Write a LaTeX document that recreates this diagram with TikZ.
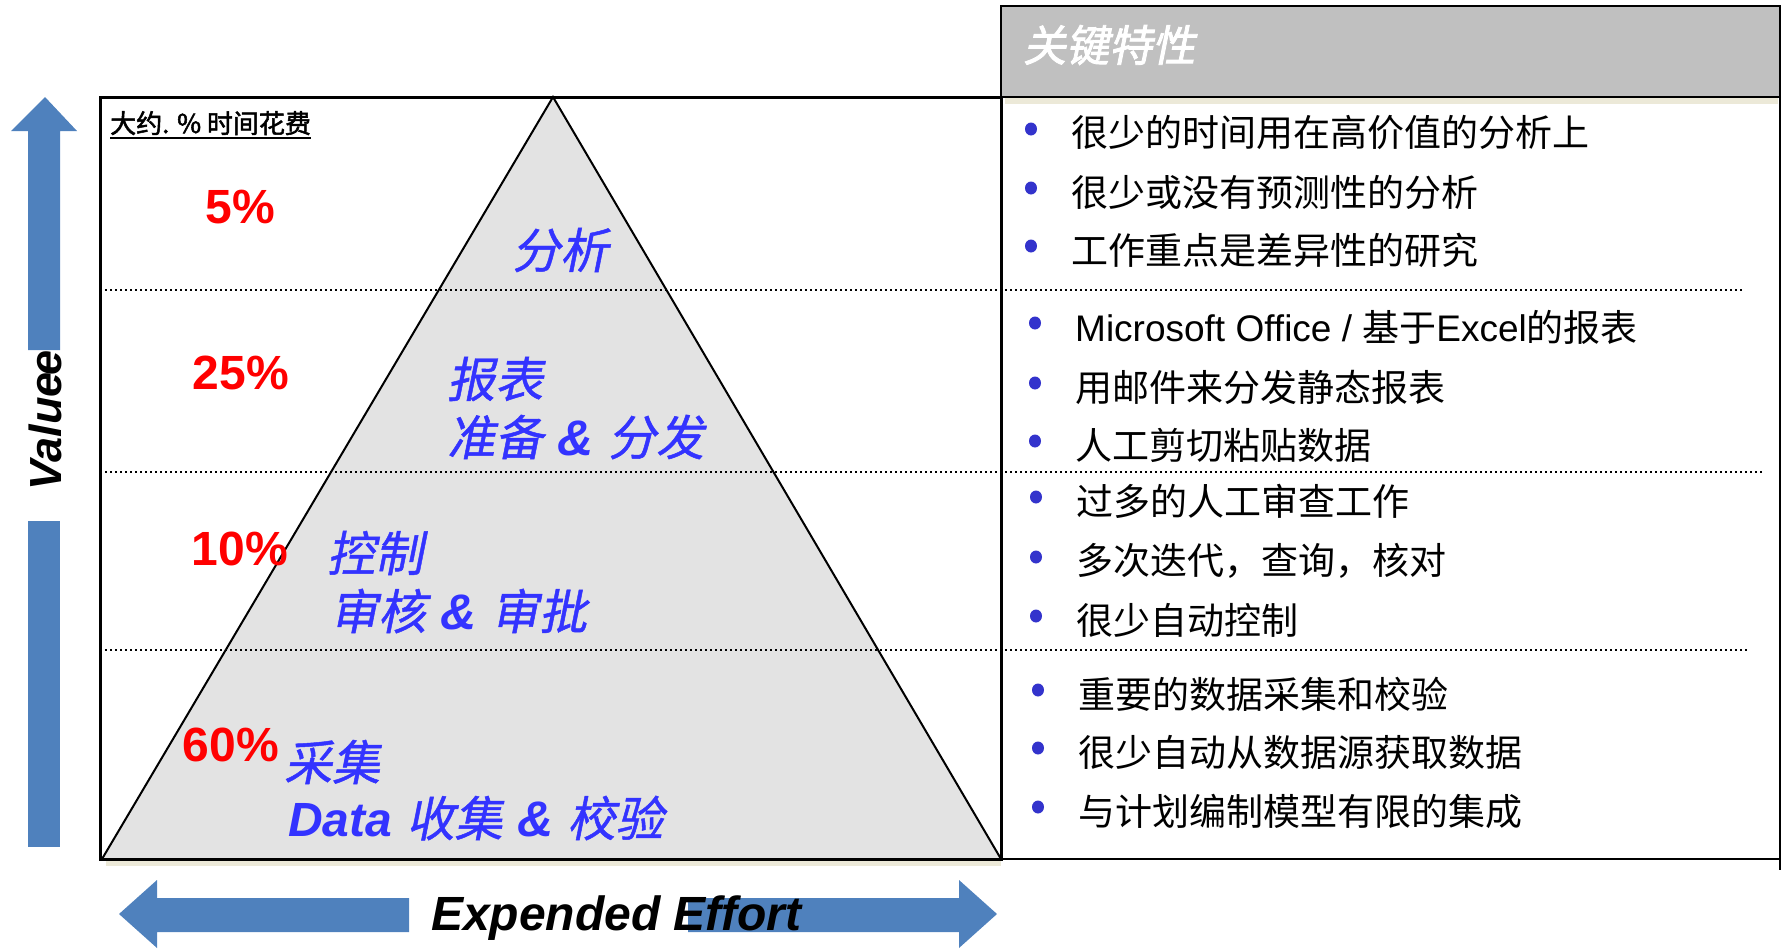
\documentclass[tikz,border=0pt]{standalone}
\usepackage{fontspec}
\setmainfont{Liberation Sans}
\newfontfamily\cjk{Noto Sans CJK SC}
\newfontfamily\cjkit{Noto Sans CJK SC}[FakeSlant=0.2,FakeBold=1]
\newfontfamily\cjkbf{Noto Sans CJK SC}[FakeBold=2]
\newfontfamily\cjkbfit{Noto Sans CJK SC}[FakeSlant=0.2,FakeBold=2]
\definecolor{arrowblue}{HTML}{4F81BD}
\definecolor{pyrgrey}{HTML}{E3E3E3}
\definecolor{hdrgrey}{HTML}{C0C0C0}
\definecolor{lblblue}{HTML}{3333FF}
\definecolor{dotblue}{HTML}{3333CC}
\definecolor{shadowc}{HTML}{ECE9D8}
\newcommand{\amp}{\hspace{0.3em}{\rmfamily\bfseries\itshape\fontsize{50}{54}\selectfont \&}\hspace{0.3em}}
\tikzset{
  blockarrow/.style={fill=arrowblue, draw=none},
  sepline/.style={line width=1.5pt, dash pattern=on 1.5pt off 3.5pt},
  pct/.style={text=red, font=\fontsize{48}{52}\selectfont\bfseries, inner sep=0pt, anchor=center},
  lvl/.style={text=lblblue, font=\fontsize{48}{52}\selectfont\cjkit, inner sep=0pt, anchor=west},
  item/.style={text=black, font=\fontsize{37}{40}\selectfont\cjk, inner sep=0pt, anchor=west},
  bul/.style={ellipse, fill=dotblue, minimum width=12pt, minimum height=13pt, inner sep=0pt},
}
\usetikzlibrary{shapes.geometric}
\begin{document}
\begin{tikzpicture}[x=1pt,y=-1pt]
\useasboundingbox (0,0) rectangle (1783,948);

% shadows
\fill[shadowc] (1005,97) rectangle (1778,104);
\fill[shadowc] (106,859) rectangle (1001,866);

% pyramid
\draw[fill=pyrgrey, line width=2pt] (553,97) -- (102,859) -- (1001,859) -- cycle;

% left frame
\draw[line width=3pt] (100,97) rectangle (1001,859);

% header
\draw[fill=hdrgrey, line width=2.5pt] (1001,6) rectangle (1780,97);
\node[text=white, font=\fontsize{43}{46}\selectfont\cjkbfit, inner sep=0pt, anchor=west] (hdr) at (1023,45) {关键特性};

% right body
\draw[line width=2.5pt] (1780,97) -- (1780,870);
\draw[line width=2.5pt] (1001,859) -- (1780,859);

% dotted separators
\draw[sepline] (100,290) -- (1745,290);
\draw[sepline] (100,472) -- (1762,472);
\draw[sepline] (100,650) -- (1748,650);

% vertical arrow
\fill[blockarrow] (45,97) -- (77,131) -- (60,131) -- (60,350) -- (28,350) -- (28,131) -- (11,131) -- cycle;
\fill[blockarrow] (28,521) rectangle (60,847);
\node[font=\fontsize{45}{48}\selectfont\bfseries\itshape, rotate=90, inner sep=0pt, anchor=base west] (val) at (61,491) {Value};
\node[font=\fontsize{45}{48}\selectfont\bfseries\itshape, rotate=90, inner sep=0pt, anchor=base east] (vale) at (61,350) {e};

% horizontal arrows
\fill[blockarrow] (119,914) -- (157,880) -- (157,898) -- (409,898) -- (409,932) -- (157,932) -- (157,948) -- cycle;
\fill[blockarrow] (997,914) -- (959,880) -- (959,898) -- (688,898) -- (688,932) -- (959,932) -- (959,948) -- cycle;
\node[font=\fontsize{48}{52}\selectfont\bfseries\itshape, inner sep=0pt, anchor=base west] (eff) at (431,930) {Expended Effort};

% time label
\node[font=\fontsize{26}{28}\selectfont\cjkbf, inner sep=0pt, anchor=base west] (tl) at (110,133) {大约. \% 时间花费};
\draw[line width=1.5pt] ([yshift=-5pt]tl.base west) -- ([yshift=-5pt]tl.base east);

% percentages
\node[pct] (p5) at (240,207) {5\%};
\node[pct] (p25) at (241,373) {25\%};
\node[pct] (p10) at (240,549) {10\%};
\node[pct] (p60) at (231,745) {60\%};

% pyramid labels
\node[lvl] (l1) at (512,250) {分析};
\node[lvl] (l2a) at (447,379) {报表};
\node[lvl] (l2b) at (447,437) {准备\amp 分发};
\node[lvl] (l3a) at (327,553) {控制};
\node[lvl] (l3b) at (330,611) {审核\amp 审批};
\node[lvl] (l4a) at (284,762) {采集};
\node[lvl] (l4b) at (288,818) {{\rmfamily\bfseries\itshape Data}\hspace{0.3em}收集\amp 校验};

% bullets and items
\node[bul] (d1) at (1031,129) {};
\node[item] (t1) at (1071,133) {很少的时间用在高价值的分析上};
\node[bul] (d2) at (1031,188) {};
\node[item] (t2) at (1071,192) {很少或没有预测性的分析};
\node[bul] (d3) at (1031,246) {};
\node[item] (t3) at (1071,250) {工作重点是差异性的研究};

\node[bul] (d4) at (1035,323) {};
\node[item] (t4) at (1075,327) {{\rmfamily Microsoft Office / }基于{\rmfamily Excel}的报表};
\node[bul] (d5) at (1035,383) {};
\node[item] (t5) at (1075,387) {用邮件来分发静态报表};
\node[bul] (d6) at (1035,441) {};
\node[item] (t6) at (1075,445) {人工剪切粘贴数据};

\node[bul] (d7) at (1036,497) {};
\node[item] (t7) at (1076,501) {过多的人工审查工作};
\node[bul] (d8) at (1036,557) {};
\node[item] (t8) at (1076,561) {多次迭代，查询，核对};
\node[bul] (d9) at (1036,616) {};
\node[item] (t9) at (1076,620) {很少自动控制};

\node[bul] (d10) at (1038,690) {};
\node[item] (t10) at (1078,694) {重要的数据采集和校验};
\node[bul] (d11) at (1038,748) {};
\node[item] (t11) at (1078,752) {很少自动从数据源获取数据};
\node[bul] (d12) at (1038,807) {};
\node[item] (t12) at (1078,811) {与计划编制模型有限的集成};
\end{tikzpicture}
\end{document}
